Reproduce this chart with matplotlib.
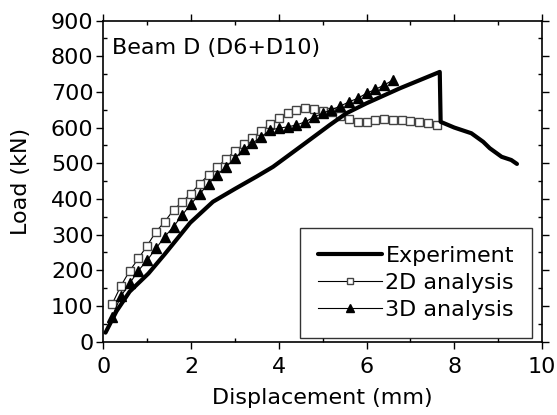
import numpy as np
import matplotlib
matplotlib.use("Agg")
import matplotlib.pyplot as plt
from matplotlib.ticker import MultipleLocator

plt.rcParams['font.family'] = ['DejaVu Sans']

# experiment curve (displacement mm, load kN)
exp_x = [0.05, 0.3, 0.6, 1.03, 1.4, 1.71, 1.98, 2.5, 3.0, 3.5, 3.87, 4.18, 4.6,
         5.16, 5.54, 6.0, 6.76, 7.67, 7.69, 8.0, 8.39, 8.66, 8.81, 9.08, 9.30, 9.43]
exp_y = [25, 85, 140, 191, 245, 292, 333, 392, 428, 463, 490, 518, 556,
         607, 640, 668, 710, 756, 616, 600, 584, 560, 542, 518, 509, 498]

# 2D analysis
d2_x = [0.2, 0.4, 0.6, 0.8, 1.0, 1.2, 1.4, 1.6, 1.8, 2.0, 2.2, 2.4, 2.6, 2.8,
        3.0, 3.2, 3.4, 3.6, 3.8, 4.0, 4.2, 4.4, 4.6, 4.8, 5.0, 5.2, 5.4, 5.6,
        5.8, 6.0, 6.2, 6.4, 6.6, 6.8, 7.0, 7.2, 7.4, 7.6]
d2_y = [105, 156, 198, 233, 269, 308, 336, 369, 392, 415, 443, 467, 490, 512,
        534, 553, 572, 590, 610, 626, 640, 649, 654, 652, 646, 644, 632, 623,
        616, 616, 621, 623, 621, 621, 618, 616, 613, 607]

# 3D analysis
d3_x = [0.2, 0.4, 0.6, 0.8, 1.0, 1.2, 1.4, 1.6, 1.8, 2.0, 2.2, 2.4, 2.6, 2.8,
        3.0, 3.2, 3.4, 3.6, 3.8, 4.0, 4.2, 4.4, 4.6, 4.8, 5.0, 5.2, 5.4, 5.6,
        5.8, 6.0, 6.2, 6.4, 6.6]
d3_y = [70, 127, 163, 199, 228, 261, 294, 322, 355, 386, 414, 443, 467, 490,
        514, 539, 556, 574, 593, 598, 602, 607, 616, 629, 640, 650, 660, 672,
        682, 696, 707, 719, 733]

fig = plt.figure(figsize=(5.57, 4.15), dpi=100)
ax = fig.add_axes([0.1855, 0.177, 0.7875, 0.7735])

ax.plot(d2_x, d2_y, '-', color='black', lw=0.8, marker='s', ms=6.3,
        mfc='white', mec='#444444', mew=1.0, label='2D analysis', zorder=3)
ax.plot(d3_x, d3_y, '-', color='black', lw=0.8, marker='^', ms=7.5,
        mfc='black', mec='black', label='3D analysis', zorder=4)
ax.plot(exp_x, exp_y, '-', color='black', lw=3, solid_capstyle='round',
        solid_joinstyle='round', label='Experiment', zorder=5)

ax.set_xlim(0, 10)
ax.set_ylim(0, 900)
ax.xaxis.set_major_locator(MultipleLocator(2))
ax.xaxis.set_minor_locator(MultipleLocator(1))
ax.yaxis.set_major_locator(MultipleLocator(100))
ax.yaxis.set_minor_locator(MultipleLocator(50))
ax.tick_params(which='both', top=True, right=True, labelsize=16, width=1)
ax.tick_params(which='major', direction='out', length=5)
ax.tick_params(which='minor', direction='in', length=3)
ax.tick_params(axis='x', which='major', pad=6)
ax.tick_params(axis='y', which='major', pad=2)
for s in ax.spines.values():
    s.set_linewidth(1.2)

ax.set_xlabel('Displacement (mm)', fontsize=16, labelpad=8)
ax.set_ylabel('Load (kN)', fontsize=16, labelpad=14)

ax.text(0.02, 0.945, 'Beam D (D6+D10)', transform=ax.transAxes, fontsize=16,
        va='top', ha='left')

h, l = ax.get_legend_handles_labels()
order = [2, 0, 1]
leg = ax.legend([h[i] for i in order], [l[i] for i in order], loc='lower right',
                bbox_to_anchor=(0.977, 0.011), fontsize=16, frameon=True,
                fancybox=False, edgecolor='black', handlelength=2.9,
                handletextpad=0.15, borderpad=0.8, labelspacing=0.32,
                borderaxespad=0)
leg.get_frame().set_linewidth(1.0)
for hd in leg.legend_handles:
    if hd.get_marker() == 's':
        hd.set_markersize(5)
    elif hd.get_marker() == '^':
        hd.set_markersize(6)

fig.savefig('out.png', dpi=100)
